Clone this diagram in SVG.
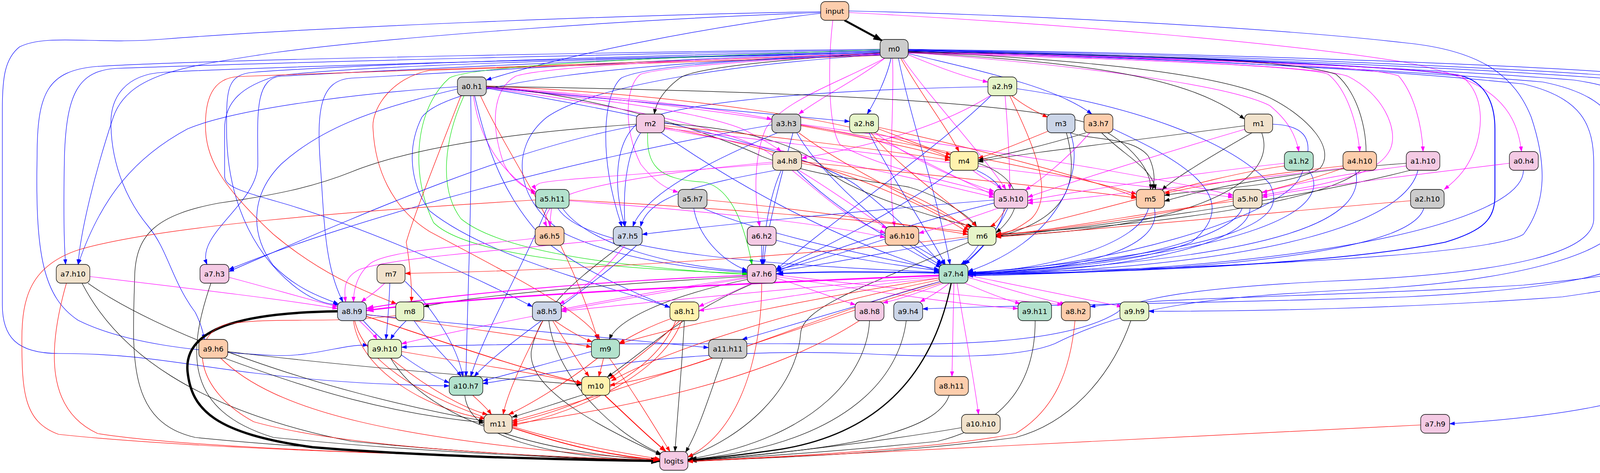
<svg xmlns="http://www.w3.org/2000/svg" width="4387" height="1211" viewBox="0 0 4387 1211">
<style>
.e{fill:none;stroke-width:1.2}
.b{stroke:#0000ff;marker-end:url(#ab)}
.r{stroke:#ff0000;marker-end:url(#ar)}
.m{stroke:#ff00ff;marker-end:url(#am)}
.g{stroke:#00e000;marker-end:url(#ag)}
.k{stroke:#000000;marker-end:url(#ak)}
.n rect{stroke:#000;stroke-width:1.3}
.n text{font-family:"DejaVu Sans","Liberation Sans",sans-serif;font-size:18.5px;text-anchor:middle;fill:#000}
.c1{fill:#b3e2cd}.c2{fill:#fdcdac}.c3{fill:#cbd5e8}.c4{fill:#f4cae4}.c5{fill:#e6f5c9}.c6{fill:#fff2ae}.c7{fill:#f1e2cc}.c8{fill:#cccccc}
</style>
<defs>
<marker id="ab" viewBox="0 0 14 10" refX="13" refY="5" markerWidth="14" markerHeight="10" markerUnits="userSpaceOnUse" orient="auto"><path d="M0,0 L14,5 L0,10 z" fill="#0000ff"/></marker>
<marker id="ar" viewBox="0 0 14 10" refX="13" refY="5" markerWidth="14" markerHeight="10" markerUnits="userSpaceOnUse" orient="auto"><path d="M0,0 L14,5 L0,10 z" fill="#ff0000"/></marker>
<marker id="am" viewBox="0 0 14 10" refX="13" refY="5" markerWidth="14" markerHeight="10" markerUnits="userSpaceOnUse" orient="auto"><path d="M0,0 L14,5 L0,10 z" fill="#ff00ff"/></marker>
<marker id="ag" viewBox="0 0 14 10" refX="13" refY="5" markerWidth="14" markerHeight="10" markerUnits="userSpaceOnUse" orient="auto"><path d="M0,0 L14,5 L0,10 z" fill="#00e000"/></marker>
<marker id="ak" viewBox="0 0 14 10" refX="13" refY="5" markerWidth="14" markerHeight="10" markerUnits="userSpaceOnUse" orient="auto"><path d="M0,0 L14,5 L0,10 z" fill="#000000"/></marker>
<marker id="akB" viewBox="0 0 14 10" refX="13" refY="5" markerWidth="24" markerHeight="17" markerUnits="userSpaceOnUse" orient="auto"><path d="M0,0 L14,5 L0,10 z" fill="#000000"/></marker>
<marker id="abB" viewBox="0 0 14 10" refX="13" refY="5" markerWidth="20" markerHeight="14" markerUnits="userSpaceOnUse" orient="auto"><path d="M0,0 L14,5 L0,10 z" fill="#0000ff"/></marker>
<marker id="amB" viewBox="0 0 14 10" refX="13" refY="5" markerWidth="20" markerHeight="14" markerUnits="userSpaceOnUse" orient="auto"><path d="M0,0 L14,5 L0,10 z" fill="#ff00ff"/></marker>
<marker id="arB" viewBox="0 0 14 10" refX="13" refY="5" markerWidth="18" markerHeight="13" markerUnits="userSpaceOnUse" orient="auto"><path d="M0,0 L14,5 L0,10 z" fill="#ff0000"/></marker>
</defs>
<rect width="4387" height="1211" fill="#ffffff"/>
<g id="edges">
<!-- input -->
<path class="e k" style="stroke-width:5;marker-end:url(#akB)" d="M2162,52 L2258,104"/>
<path class="e b" d="M2101,34 C1800,70 1450,140 1245,205"/>
<path class="e b" d="M2101,30 C1600,38 800,70 420,100 C250,115 120,85 50,120 C12,150 6,200 6,280 L6,780 C6,860 40,905 150,905 C350,905 450,930 650,955 C850,980 1000,985 1150,988"/>
<path class="e b" d="M2101,32 C1600,50 1000,95 700,135 C480,170 330,185 290,300 C240,450 205,600 200,677"/>
<path class="e b" d="M2173,28 C2700,40 3300,75 3600,110 C3800,130 3880,200 3920,300 C3960,420 3960,520 3900,600 C3800,660 3000,690 2478,698"/>
<path class="e m" d="M2173,32 C2700,60 3300,110 3600,160 C3800,200 3880,260 3895,388"/>
<path class="e m" d="M2132,52 C2120,150 2118,320 2150,370 C2250,430 2450,470 2545,495"/>
<!-- m0 left bundle -->
<path class="e b" d="M2253,128 C1700,135 700,160 300,175 C200,180 170,240 165,400 C162,550 165,640 168,677"/>
<path class="e b" d="M2253,126 C1700,132 600,150 250,170 C120,180 95,240 95,400 C90,650 110,760 200,820 C320,880 500,900 700,910 C800,915 880,880 942,884"/>
<path class="e b" d="M2253,130 C1700,140 900,165 650,185 C580,190 580,230 580,330 C580,500 640,640 750,730 C800,770 840,780 866,780"/>
<path class="e b" d="M2253,131 C1700,145 1000,180 720,195 C650,200 660,300 660,420 C660,520 500,600 530,677"/>
<path class="e b" d="M2253,133 C1700,150 1100,190 900,200 C820,205 810,280 820,420 C830,560 830,680 878,773"/>
<path class="e b" d="M2253,134 C1500,150 700,170 420,185 C320,190 282,250 284,320 C286,430 330,520 380,580 C430,640 440,720 500,800 C515,830 520,850 523,869"/>
<path class="e b" d="M2253,136 C1500,150 900,170 710,194 C620,220 575,260 575,330 L575,450 C575,480 620,490 740,525 C950,590 1200,700 1363,785"/>
<path class="e b" d="M2253,138 C1600,160 1150,210 1080,300 C1040,380 1050,470 1100,540 C1250,660 1550,730 1715,787"/>
<path class="e b" d="M2253,140 C1800,170 1500,230 1400,300 C1300,380 1320,520 1450,600 C1600,670 1800,690 1913,698"/>
<path class="e r" d="M2253,137 C1500,160 900,185 610,196 C540,200 526,260 526,320 C526,400 560,470 700,600 C820,700 920,740 1015,778"/>
<path class="e r" d="M2253,142 C1700,160 1200,175 1100,180 C1000,200 950,280 955,330 C960,430 1000,530 1100,593 C1300,700 1500,800 1535,869"/>
<path class="e g" d="M2253,127 C1600,150 1200,170 1150,200 C1060,280 1050,450 1110,570 C1200,660 1600,690 1913,700"/>
<!-- m0 right -->
<path class="e b" style="stroke-width:2.2;marker-end:url(#abB)" d="M2325,128 C2900,140 3500,165 3720,190 C3800,200 3827,260 3827,330 L3827,500 C3827,560 3800,590 3700,620 C3400,680 2800,700 2480,701"/>
<path class="e b" d="M2325,126 C3000,135 3800,160 4200,190 C4330,210 4381,250 4381,320 L4381,850 C4381,1000 4100,1060 3711,1085"/>
<path class="e b" d="M2325,127 C3000,138 3700,165 4150,195 C4300,215 4332,260 4332,330 L4332,640 C4332,700 4280,720 4000,760 C3600,790 3200,797 2941,797"/>
<path class="e b" d="M2325,129 C3000,142 3700,170 4100,200 C4250,220 4280,270 4280,330 L4280,640 C4280,680 4200,700 3900,730 C3400,760 3000,760 2791,785"/>
<path class="e b" d="M2325,130 C3000,145 3650,175 4030,205 C4200,230 4227,280 4227,350 L4227,600 C4227,700 4000,740 3600,760 C3000,780 2600,780 2362,791"/>
<path class="e b" d="M2325,132 C3000,150 3600,180 3950,210 C4100,240 4150,300 4150,400 L4150,560 C4150,640 3900,720 3500,740 C3100,760 2900,780 2700,880 C2600,920 2400,915 2200,905 C1800,890 1500,940 1236,982"/>
<path class="e b" d="M2325,131 C3000,148 3550,178 3900,215 C4050,250 4080,320 4080,420 L4080,560 C4080,640 3900,700 3400,720 C3100,735 2900,760 2860,800 C2700,900 2300,880 2000,880 C1600,880 1200,880 1028,889"/>
<path class="e m" d="M2325,134 C2800,170 3150,220 3250,270 C3300,310 3318,350 3325,388"/>
<path class="e m" d="M2325,136 C2900,150 3350,170 3400,190 C3450,230 3475,320 3481,388"/>
<path class="e m" d="M2325,134 C2900,145 3500,165 3580,194 C3620,240 3640,320 3643,388"/>
<path class="e m" d="M2325,133 C2900,145 3650,170 3740,194 C3790,230 3800,300 3780,370 C3760,430 3730,460 3697,485"/>
<path class="e m" d="M2325,135 C2900,150 3380,170 3450,195 C3540,240 3580,330 3560,380 C3530,450 3400,470 3231,500"/>
<path class="e k" d="M2325,131 C2700,150 3100,180 3250,250 C3350,300 3420,380 3380,430 C3300,480 3100,480 2981,500"/>
<path class="e k" d="M2325,133 C2900,140 3300,150 3420,190 C3480,240 3505,350 3495,420 C3470,480 3200,560 2550,600"/>
<path class="e k" d="M2325,134 C2800,160 3050,200 3186,305"/>
<!-- m0 down -->
<path class="e b" d="M2281,149 C2270,200 2240,260 2220,292"/>
<path class="e r" d="M2306,149 C2350,230 2420,320 2455,388"/>
<path class="e m" d="M2310,149 C2380,250 2520,400 2575,485"/>
<path class="e m" d="M2325,140 C2420,180 2480,200 2529,210"/>
<path class="e b" d="M2325,137 C2500,180 2700,220 2795,292"/>
<path class="e k" d="M2253,135 C2050,150 1780,170 1740,200 C1700,230 1680,260 1675,292"/>
<path class="e m" d="M2265,149 C2200,200 2100,250 2045,292"/>
<path class="e m" d="M2253,137 C1800,150 1400,170 1320,195 C1260,230 1255,320 1290,420 C1310,460 1340,480 1372,492"/>
<path class="e m" d="M2253,139 C2000,150 1700,170 1640,190 C1600,220 1595,330 1640,420 C1680,470 1710,485 1736,492"/>
<path class="e m" d="M2265,149 C2150,210 2000,260 1960,330 C1930,400 1930,500 1945,580"/>
<path class="e b" d="M2253,141 C1900,150 1650,170 1590,200 C1545,240 1530,400 1592,580"/>
<path class="e b" d="M2300,149 C2330,300 2400,500 2432,677"/>
<path class="e m" d="M2285,149 C2290,300 2270,450 2290,580"/>
<!-- a2.h9 -->
<path class="e r" d="M2590,245 C2620,270 2660,290 2682,300"/>
<path class="e m" d="M2535,245 C2400,330 2200,380 2052,405"/>
<path class="e m" d="M2573,245 C2580,330 2585,420 2585,485"/>
<path class="e r" d="M2585,245 C2650,380 2700,500 2640,560 C2600,590 2570,600 2550,600"/>
<path class="e b" d="M2603,227 C2900,270 3150,360 3250,470 C3300,560 3200,640 2478,699"/>
<path class="e b" d="M2537,245 C2400,380 2150,550 1987,690"/>
<path class="e b" d="M2529,222 C2100,230 1750,260 1640,310 C1570,360 1570,480 1600,580"/>
<!-- a0.h1 -->
<path class="e m" d="M1245,222 C1500,240 1800,270 1976,305"/>
<path class="e m" d="M1245,223 C1600,260 1800,290 1900,330 C1960,360 1990,380 2000,388"/>
<path class="e b" d="M1245,224 C1600,260 1950,290 2175,311"/>
<path class="e r" d="M1245,220 C1700,240 2200,300 2432,404"/>
<path class="e k" d="M1245,221 C1800,230 2600,250 2800,320 C2900,370 2950,440 2945,485"/>
<path class="e k" d="M1245,222 C1500,240 1800,330 1950,400 C2100,460 2300,470 2330,480 C2400,500 2480,550 2500,580"/>
<path class="e m" d="M1245,225 C1600,270 1850,330 1950,380 C2050,440 2150,560 2266,596"/>
<path class="e m" d="M1245,223 C1700,260 2200,330 2300,380 C2400,430 2500,480 2545,500"/>
<path class="e r" d="M1180,245 C1120,400 1060,550 1040,620 C1050,680 1055,740 1053,773"/>
<path class="e g" d="M1188,245 C1140,350 1120,480 1180,560 C1300,660 1700,690 1913,703"/>
<path class="e m" d="M1212,245 C1230,380 1300,450 1372,498"/>
<path class="e b" d="M1205,245 C1210,500 1195,800 1193,964"/>
<path class="e b" d="M1215,245 C1250,400 1300,520 1400,620 C1500,700 1650,760 1715,787"/>
<path class="e r" d="M1230,245 C1300,400 1450,600 1530,869"/>
<path class="e b" d="M1245,226 C1700,300 2100,400 2200,480 C2300,560 2380,640 2410,677"/>
<path class="e b" d="M1171,222 C900,240 600,280 480,330 C350,400 260,500 200,677"/>
<path class="e b" d="M1171,228 C950,280 820,330 720,420 C640,500 640,600 700,680 C760,740 820,760 866,778"/>
<!-- m2 -->
<path class="e k" d="M1629,318 C1300,340 1050,380 900,440 C800,480 700,500 560,520 C400,550 350,600 345,700 C340,900 320,1080 500,1120 C900,1160 1400,1175 1689,1181"/>
<path class="e k" d="M1701,316 C1950,330 2080,390 2120,440 C2200,500 2400,560 2490,580"/>
<path class="e g" d="M1658,340 C1655,420 1680,460 1800,466 C1880,480 1910,600 1925,677"/>
<path class="e b" d="M1629,322 C1300,380 900,560 586,695"/>
<path class="e b" d="M1693,340 C1850,450 2100,600 2404,695"/>
<path class="e b" d="M1640,340 C1600,400 1595,500 1600,580"/>
<path class="e r" d="M1701,322 C2000,350 2300,390 2432,410"/>
<path class="e r" d="M1701,326 C2000,380 2300,480 2478,595"/>
<path class="e m" d="M1701,330 C2100,400 2400,470 2545,505"/>
<path class="e m" d="M1701,328 C2300,400 2900,470 3157,505"/>
<!-- a3.h3 -->
<path class="e r" d="M2050,322 C2200,350 2350,380 2432,405"/>
<path class="e r" d="M2050,320 C2400,380 2800,460 2909,497"/>
<path class="e m" d="M2050,318 C2500,380 2900,440 3157,500"/>
<path class="e b" d="M1990,340 C1800,420 1650,500 1620,580"/>
<path class="e b" d="M1976,320 C1500,400 900,560 586,690"/>
<path class="e b" d="M2030,340 C2000,450 1960,600 1955,677"/>
<path class="e r" d="M2045,340 C2150,420 2350,520 2485,582"/>
<path class="e b" d="M2040,340 C2100,450 2300,620 2410,680"/>
<!-- a2.h8 -->
<path class="e r" d="M2249,330 C2330,360 2400,390 2435,395"/>
<path class="e r" d="M2249,326 C2500,380 2800,460 2909,505"/>
<path class="e m" d="M2240,340 C2350,420 2480,470 2545,490"/>
<path class="e b" d="M2225,340 C2280,450 2380,600 2420,677"/>
<path class="e r" d="M2230,340 C2300,430 2450,530 2500,580"/>
<!-- m3 a3.h7 m1 -->
<path class="e r" d="M2685,335 C2600,370 2540,395 2504,405"/>
<path class="e k" d="M2740,340 C2800,360 2900,350 2940,400 C2960,440 2955,470 2950,485"/>
<path class="e k" d="M2730,340 C2760,450 2750,560 2550,606"/>
<path class="e b" d="M2740,340 C2780,450 2700,620 2478,695"/>
<path class="e k" d="M2780,340 C2650,380 2550,400 2504,410"/>
<path class="e k" d="M2820,340 C2880,400 2950,430 2958,485"/>
<path class="e m" d="M2790,340 C2720,420 2650,470 2625,487"/>
<path class="e b" d="M2849,330 C3000,400 3200,500 3050,620 C2900,680 2600,695 2478,700"/>
<path class="e k" d="M3186,322 C2900,360 2600,395 2504,414"/>
<path class="e k" d="M3205,340 C3100,400 3000,460 2975,487"/>
<path class="e m" d="M3190,330 C2950,400 2700,480 2631,505"/>
<path class="e k" d="M3230,340 C3280,480 3000,590 2550,604"/>
<path class="e b" d="M3258,318 C3320,320 3380,340 3330,450 C3280,560 2800,690 2478,697"/>
<!-- a4.h8 -->
<path class="e m" d="M1978,415 C1700,440 1450,480 1420,520 C1390,550 1395,570 1400,580"/>
<path class="e m" d="M1980,419 C1600,450 1400,460 1380,470 C1370,475 1368,480 1372,486"/>
<path class="e b" d="M1985,436 C1800,470 1660,500 1640,580"/>
<path class="e r" d="M2052,418 C2250,450 2400,520 2480,590"/>
<path class="e m" d="M2045,436 C2150,500 2230,560 2270,585"/>
<path class="e b" d="M2040,436 C2150,550 2330,640 2408,685"/>
<path class="e b" d="M2000,436 C1970,500 1955,600 1952,677"/>
<path class="e r" d="M2052,414 C2400,450 2800,490 2909,507"/>
<!-- m4 -->
<path class="e m" d="M2490,436 C2520,460 2550,470 2565,485"/>
<path class="e k" d="M2504,418 C2600,450 2640,520 2550,596"/>
<path class="e b" d="M2500,436 C2600,480 2600,560 2470,677"/>
<path class="e b" d="M2440,436 C2300,540 2100,640 1987,690"/>
<!-- right nodes -->
<path class="e m" d="M3288,418 C3000,450 2700,500 2631,514"/>
<path class="e r" d="M3288,425 C3100,450 2900,520 2550,600"/>
<path class="e b" d="M3350,436 C3400,500 3350,640 2478,702"/>
<path class="e r" d="M3438,425 C3200,450 3050,480 2981,495"/>
<path class="e m" d="M3438,430 C3100,470 2750,510 2631,520"/>
<path class="e r" d="M3440,430 C3300,480 3000,560 2550,603"/>
<path class="e b" d="M3470,436 C3500,560 3300,660 2478,703"/>
<path class="e k" d="M3600,418 C3300,440 3100,480 2981,515"/>
<path class="e m" d="M3600,425 C3400,450 3280,480 3231,493"/>
<path class="e k" d="M3610,436 C3400,490 3000,560 2550,606"/>
<path class="e b" d="M3630,436 C3600,560 3300,680 2478,704"/>
<path class="e m" d="M3864,418 C3600,450 3350,480 3231,505"/>
<path class="e b" d="M3900,436 C3900,560 3400,690 2478,705"/>
<path class="e r" d="M3611,514 C3300,540 2900,580 2550,607"/>
<path class="e b" d="M3645,533 C3620,620 3300,690 2478,706"/>
<!-- row 5 -->
<path class="e r" d="M1371,512 C900,540 400,580 200,640 C80,680 56,760 56,868 C56,1000 60,1080 150,1112 C500,1150 1200,1170 1689,1178"/>
<path class="e m" d="M1412,533 C1410,550 1408,565 1407,580"/>
<path class="e m" d="M1457,514 C1800,540 2100,570 2266,608"/>
<path class="e r" d="M1457,512 C1800,530 2200,560 2478,594"/>
<path class="e b" d="M1440,533 C1500,620 1700,680 1913,695"/>
<path class="e b" d="M1428,533 C1500,650 2000,680 2404,697"/>
<path class="e b" d="M1400,533 C1330,700 1240,850 1205,964"/>
<path class="e b" d="M1776,533 C1790,620 1870,680 1913,692"/>
<path class="e r" d="M1810,512 C2100,540 2350,580 2478,600"/>
<path class="e b" d="M1800,533 C1950,600 2250,660 2404,690"/>
<path class="e r" d="M2575,533 C2560,560 2545,575 2535,580"/>
<path class="e b" d="M2545,512 C2200,540 1800,580 1644,600"/>
<path class="e m" d="M2555,533 C2450,570 2380,590 2352,597"/>
<path class="e b" d="M2580,533 C2550,600 2500,650 2465,677"/>
<path class="e b" d="M2545,520 C2300,580 2100,650 1987,695"/>
<path class="e b" d="M2940,533 C2920,620 2700,690 2478,699"/>
<path class="e b" d="M2955,533 C2980,640 2750,695 2478,700"/>
<path class="e r" d="M3157,515 C2900,550 2700,590 2550,602"/>
<path class="e b" d="M3180,533 C3150,620 2800,690 2478,700"/>
<path class="e b" d="M3200,533 C3200,640 2800,698 2478,702"/>
<!-- row 6 -->
<path class="e m" d="M1370,610 C1200,630 1000,640 950,673 C915,700 905,740 905,773"/>
<path class="e m" d="M1570,612 C1300,640 1000,660 920,690 C880,710 880,740 885,773"/>
<path class="e m" d="M1600,628 C1540,700 1470,760 1432,778"/>
<path class="e k" d="M1590,628 C1500,700 1380,780 1360,900 C1350,1000 1550,1100 1692,1165"/>
<path class="e b" d="M1630,628 C1500,750 1300,870 1214,964"/>
<path class="e b" d="M1950,628 L1950,677"/>
<path class="e b" d="M1987,615 C2150,660 2300,680 2404,693"/>
<path class="e b" d="M2340,628 C2380,650 2410,670 2420,677"/>
<path class="e b" d="M2266,612 C2150,650 2050,680 1987,690"/>
<path class="e b" d="M2505,628 C2490,650 2470,670 2460,677"/>
<path class="e r" d="M2478,606 C2200,640 1600,690 1037,700"/>
<path class="e b" d="M2478,610 C2300,640 2100,680 1987,694"/>
<path class="e k" d="M2480,620 C2250,720 2060,780 2050,850 C2040,1000 1900,1120 1761,1170"/>
<path class="e b" style="stroke-width:2.5;marker-end:url(#abB)" d="M2404,699 C2200,695 2100,695 1987,701"/>
<!-- row 7 -->
<path class="e m" d="M230,708 C500,740 750,770 864,790"/>
<path class="e r" d="M170,725 C120,900 120,1050 250,1110 C500,1150 1200,1170 1689,1178"/>
<path class="e k" d="M210,725 C300,900 500,1050 900,1130 C1200,1160 1500,1175 1689,1180"/>
<path class="e k" d="M225,725 C400,850 800,1000 1239,1078"/>
<path class="e m" d="M586,710 C700,740 800,770 864,785"/>
<path class="e k" d="M540,725 C480,900 470,1050 700,1120 C1100,1160 1500,1175 1689,1179"/>
<path class="e m" d="M985,725 C960,750 935,765 925,773"/>
<path class="e b" d="M998,725 C995,800 990,850 988,869"/>
<path class="e b" d="M1037,720 C1100,780 1170,880 1185,964"/>
<path class="e m" style="stroke-width:2.2;marker-end:url(#amB)" d="M1913,705 C1500,720 1100,760 938,790"/>
<path class="e m" d="M1913,710 C1700,740 1500,780 1437,792"/>
<path class="e m" d="M1925,725 C1850,760 1800,780 1789,785"/>
<path class="e m" d="M1987,712 C2080,740 2150,770 2190,780"/>
<path class="e m" d="M1987,708 C2200,740 2450,780 2606,790"/>
<path class="e m" d="M1987,704 C2300,740 2600,770 2720,780"/>
<path class="e k" d="M1913,708 C1500,730 1200,760 1085,785"/>
<path class="e k" d="M1915,715 C1700,760 1580,820 1560,869"/>
<path class="e k" d="M1930,725 C1750,800 1650,900 1555,965"/>
<path class="e r" d="M1950,725 C1950,900 1900,1100 1761,1170"/>
<path class="e m" d="M1913,712 C1500,780 1200,840 1028,880"/>
<path class="e m" style="stroke-width:3.5;marker-end:url(#amB)" d="M2404,705 C1800,730 1200,760 938,795"/>
<path class="e m" d="M2404,708 C2000,740 1600,780 1437,797"/>
<path class="e m" d="M2404,712 C2100,740 1900,780 1789,795"/>
<path class="e m" d="M2415,725 C2350,750 2290,770 2260,775"/>
<path class="e m" d="M2430,725 C2400,750 2370,765 2355,773"/>
<path class="e m" d="M2470,725 C2530,750 2580,770 2612,777"/>
<path class="e m" d="M2478,710 C2580,740 2680,770 2727,778"/>
<path class="e m" d="M2478,705 C2650,740 2800,770 2872,785"/>
<path class="e m" d="M2442,725 C2440,850 2438,920 2437,964"/>
<path class="e m" d="M2450,725 C2470,850 2495,980 2505,1061"/>
<path class="e r" d="M2404,712 C2100,760 1750,830 1586,880"/>
<path class="e r" d="M2410,720 C2100,800 1800,950 1561,986"/>
<path class="e r" d="M2415,722 C2000,850 1600,1000 1311,1078"/>
<path class="e r" d="M2406,716 C2000,800 1700,900 1565,975"/>
<path class="e b" d="M2410,720 C2200,780 2000,840 1900,869"/>
<path class="e k" style="stroke-width:3;marker-end:url(#akB)" d="M2435,725 C2400,900 2300,1100 2000,1150 C1900,1165 1800,1175 1761,1178"/>
<!-- row 8 -->
<path class="e k" style="stroke-width:6;marker-end:url(#akB)" d="M864,797 C650,800 470,830 480,950 C490,1050 550,1110 800,1145 C1100,1170 1500,1178 1689,1180"/>
<path class="e m" d="M920,821 C945,845 960,860 965,869"/>
<path class="e r" d="M938,805 C1200,840 1400,870 1514,888"/>
<path class="e r" style="stroke-width:1.8" d="M938,810 C1150,880 1350,950 1489,980"/>
<path class="e r" d="M905,821 C920,950 1100,1050 1242,1072"/>
<path class="e b" d="M938,806 C1300,840 1600,870 1814,890"/>
<path class="e b" d="M930,821 C1000,900 1100,960 1150,980"/>
<path class="e r" d="M908,821 C940,960 1200,1100 1689,1175"/>
<path class="e b" d="M1040,821 C1020,840 1005,860 1000,869"/>
<path class="e b" d="M1060,821 C1100,880 1160,930 1180,964"/>
<path class="e r" d="M1013,808 C850,830 700,810 580,830 C480,860 500,1000 650,1080 C900,1150 1400,1170 1689,1178"/>
<path class="e r" d="M1420,821 C1460,850 1500,870 1516,875"/>
<path class="e r" d="M1415,821 C1450,880 1490,940 1508,964"/>
<path class="e r" d="M1390,821 C1350,900 1300,1000 1288,1061"/>
<path class="e k" d="M1405,821 C1420,950 1550,1100 1692,1162"/>
<path class="e r" d="M1720,815 C1650,840 1610,865 1586,878"/>
<path class="e r" d="M1740,821 C1680,880 1600,940 1561,970"/>
<path class="e r" d="M1745,821 C1700,950 1500,1050 1311,1090"/>
<path class="e r" d="M1730,821 C1680,950 1500,1040 1311,1082"/>
<path class="e k" d="M1752,821 C1745,950 1735,1050 1728,1156"/>
<path class="e k" d="M2226,821 C2220,950 2100,1120 1761,1176"/>
<path class="e r" d="M2200,821 C2000,950 1700,1030 1311,1086"/>
<path class="e k" d="M2320,821 C2300,980 2150,1140 1761,1177"/>
<path class="e k" d="M2650,821 C2650,950 2600,1080 2400,1130 C2100,1160 1900,1172 1761,1179"/>
<path class="e r" d="M2752,821 C2740,950 2700,1050 2600,1110 C2400,1150 2000,1170 1761,1180"/>
<path class="e k" d="M2895,821 C2850,950 2750,1080 2600,1120 C2300,1160 2000,1172 1761,1181"/>
<!-- row 9+ -->
<path class="e k" d="M583,900 C900,940 1300,970 1489,985"/>
<path class="e k" d="M575,917 C800,1000 1000,1060 1239,1082"/>
<path class="e r" d="M565,917 C700,1050 1000,1130 1689,1177"/>
<path class="e r" d="M1028,900 C1200,930 1400,960 1489,982"/>
<path class="e r" d="M1000,917 C1100,1000 1200,1050 1248,1061"/>
<path class="e k" d="M1000,917 C1080,1050 1300,1150 1689,1180"/>
<path class="e k" d="M1850,917 C1820,1000 1790,1100 1755,1158"/>
<path class="e b" d="M1514,900 C1400,930 1300,960 1236,975"/>
<path class="e r" d="M1545,917 C1540,940 1535,955 1533,964"/>
<path class="e r" d="M1530,917 C1450,980 1350,1040 1302,1061"/>
<path class="e r" d="M1560,917 C1620,1000 1680,1100 1715,1156"/>
<path class="e r" d="M1210,1012 C1230,1030 1250,1050 1258,1061"/>
<path class="e k" d="M1190,1012 C1200,1120 1400,1170 1689,1180"/>
<path class="e k" d="M1495,1010 C1400,1040 1340,1060 1311,1068"/>
<path class="e r" style="stroke-width:2.2;marker-end:url(#arB)" d="M1548,1012 C1600,1060 1650,1110 1705,1156"/>
<path class="e k" d="M2430,1012 C2400,1100 2200,1150 1761,1179"/>
<path class="e r" style="stroke-width:2.2;marker-end:url(#arB)" d="M1311,1095 C1450,1140 1550,1165 1689,1178"/>
<path class="e k" d="M2461,1095 C2200,1140 1900,1170 1761,1180"/>
<path class="e r" d="M3637,1088 C3000,1120 2200,1160 1761,1182"/>
</g>
<g id="n-input" class="n"><rect class="c2" x="2101" y="4" width="72" height="48" rx="12"/><text x="2137" y="34.5">input</text></g>
<g id="n-m0" class="n"><rect class="c8" x="2253" y="101" width="72" height="48" rx="12"/><text x="2289" y="131.5">m0</text></g>
<g id="n-a0.h1" class="n"><rect class="c8" x="1171" y="197" width="74" height="48" rx="12"/><text x="1208" y="227.5">a0.h1</text></g>
<g id="n-a2.h9" class="n"><rect class="c5" x="2529" y="197" width="74" height="48" rx="12"/><text x="2566" y="227.5">a2.h9</text></g>
<g id="n-m2" class="n"><rect class="c4" x="1629" y="292" width="72" height="48" rx="12"/><text x="1665" y="322.5">m2</text></g>
<g id="n-a3.h3" class="n"><rect class="c8" x="1976" y="292" width="74" height="48" rx="12"/><text x="2013" y="322.5">a3.h3</text></g>
<g id="n-a2.h8" class="n"><rect class="c5" x="2175" y="292" width="74" height="48" rx="12"/><text x="2212" y="322.5">a2.h8</text></g>
<g id="n-m3" class="n"><rect class="c3" x="2680" y="292" width="72" height="48" rx="12"/><text x="2716" y="322.5">m3</text></g>
<g id="n-a3.h7" class="n"><rect class="c2" x="2775" y="292" width="74" height="48" rx="12"/><text x="2812" y="322.5">a3.h7</text></g>
<g id="n-m1" class="n"><rect class="c7" x="3186" y="292" width="72" height="48" rx="12"/><text x="3222" y="322.5">m1</text></g>
<g id="n-a4.h8" class="n"><rect class="c7" x="1978" y="388" width="74" height="48" rx="12"/><text x="2015" y="418.5">a4.h8</text></g>
<g id="n-m4" class="n"><rect class="c6" x="2432" y="388" width="72" height="48" rx="12"/><text x="2468" y="418.5">m4</text></g>
<g id="n-a1.h2" class="n"><rect class="c1" x="3288" y="388" width="74" height="48" rx="12"/><text x="3325" y="418.5">a1.h2</text></g>
<g id="n-a4.h10" class="n"><rect class="c2" x="3438" y="388" width="86" height="48" rx="12"/><text x="3481" y="418.5">a4.h10</text></g>
<g id="n-a1.h10" class="n"><rect class="c4" x="3600" y="388" width="86" height="48" rx="12"/><text x="3643" y="418.5">a1.h10</text></g>
<g id="n-a0.h4" class="n"><rect class="c4" x="3864" y="388" width="74" height="48" rx="12"/><text x="3901" y="418.5">a0.h4</text></g>
<g id="n-a5.h11" class="n"><rect class="c1" x="1371" y="485" width="86" height="48" rx="12"/><text x="1414" y="515.5">a5.h11</text></g>
<g id="n-a5.h7" class="n"><rect class="c8" x="1736" y="485" width="74" height="48" rx="12"/><text x="1773" y="515.5">a5.h7</text></g>
<g id="n-a5.h10" class="n"><rect class="c4" x="2545" y="485" width="86" height="48" rx="12"/><text x="2588" y="515.5">a5.h10</text></g>
<g id="n-m5" class="n"><rect class="c2" x="2909" y="485" width="72" height="48" rx="12"/><text x="2945" y="515.5">m5</text></g>
<g id="n-a5.h0" class="n"><rect class="c7" x="3157" y="485" width="74" height="48" rx="12"/><text x="3194" y="515.5">a5.h0</text></g>
<g id="n-a2.h10" class="n"><rect class="c8" x="3611" y="485" width="86" height="48" rx="12"/><text x="3654" y="515.5">a2.h10</text></g>
<g id="n-a6.h5" class="n"><rect class="c2" x="1370" y="580" width="74" height="48" rx="12"/><text x="1407" y="610.5">a6.h5</text></g>
<g id="n-a7.h5" class="n"><rect class="c3" x="1570" y="580" width="74" height="48" rx="12"/><text x="1607" y="610.5">a7.h5</text></g>
<g id="n-a6.h2" class="n"><rect class="c4" x="1913" y="580" width="74" height="48" rx="12"/><text x="1950" y="610.5">a6.h2</text></g>
<g id="n-a6.h10" class="n"><rect class="c2" x="2266" y="580" width="86" height="48" rx="12"/><text x="2309" y="610.5">a6.h10</text></g>
<g id="n-m6" class="n"><rect class="c5" x="2478" y="580" width="72" height="48" rx="12"/><text x="2514" y="610.5">m6</text></g>
<g id="n-a7.h10" class="n"><rect class="c7" x="144" y="677" width="86" height="48" rx="12"/><text x="187" y="707.5">a7.h10</text></g>
<g id="n-a7.h3" class="n"><rect class="c4" x="512" y="677" width="74" height="48" rx="12"/><text x="549" y="707.5">a7.h3</text></g>
<g id="n-m7" class="n"><rect class="c7" x="965" y="677" width="72" height="48" rx="12"/><text x="1001" y="707.5">m7</text></g>
<g id="n-a7.h6" class="n"><rect class="c4" x="1913" y="677" width="74" height="48" rx="12"/><text x="1950" y="707.5">a7.h6</text></g>
<g id="n-a7.h4" class="n"><rect class="c1" x="2404" y="677" width="74" height="48" rx="12"/><text x="2441" y="707.5">a7.h4</text></g>
<g id="n-a8.h9" class="n"><rect class="c3" x="864" y="773" width="74" height="48" rx="12"/><text x="901" y="803.5">a8.h9</text></g>
<g id="n-m8" class="n"><rect class="c5" x="1013" y="773" width="72" height="48" rx="12"/><text x="1049" y="803.5">m8</text></g>
<g id="n-a8.h5" class="n"><rect class="c3" x="1363" y="773" width="74" height="48" rx="12"/><text x="1400" y="803.5">a8.h5</text></g>
<g id="n-a8.h1" class="n"><rect class="c6" x="1715" y="773" width="74" height="48" rx="12"/><text x="1752" y="803.5">a8.h1</text></g>
<g id="n-a8.h8" class="n"><rect class="c4" x="2189" y="773" width="74" height="48" rx="12"/><text x="2226" y="803.5">a8.h8</text></g>
<g id="n-a9.h4" class="n"><rect class="c3" x="2288" y="773" width="74" height="48" rx="12"/><text x="2325" y="803.5">a9.h4</text></g>
<g id="n-a9.h11" class="n"><rect class="c1" x="2606" y="773" width="86" height="48" rx="12"/><text x="2649" y="803.5">a9.h11</text></g>
<g id="n-a8.h2" class="n"><rect class="c2" x="2717" y="773" width="74" height="48" rx="12"/><text x="2754" y="803.5">a8.h2</text></g>
<g id="n-a9.h9" class="n"><rect class="c5" x="2867" y="773" width="74" height="48" rx="12"/><text x="2904" y="803.5">a9.h9</text></g>
<g id="n-a9.h6" class="n"><rect class="c2" x="509" y="869" width="74" height="48" rx="12"/><text x="546" y="899.5">a9.h6</text></g>
<g id="n-a9.h10" class="n"><rect class="c5" x="942" y="869" width="86" height="48" rx="12"/><text x="985" y="899.5">a9.h10</text></g>
<g id="n-m9" class="n"><rect class="c1" x="1514" y="869" width="72" height="48" rx="12"/><text x="1550" y="899.5">m9</text></g>
<g id="n-a11.h11" class="n"><rect class="c8" x="1814" y="869" width="98" height="48" rx="12"/><text x="1863" y="899.5">a11.h11</text></g>
<g id="n-a10.h7" class="n"><rect class="c1" x="1150" y="964" width="86" height="48" rx="12"/><text x="1193" y="994.5">a10.h7</text></g>
<g id="n-m10" class="n"><rect class="c6" x="1489" y="964" width="72" height="48" rx="12"/><text x="1525" y="994.5">m10</text></g>
<g id="n-a8.h11" class="n"><rect class="c2" x="2393" y="964" width="86" height="48" rx="12"/><text x="2436" y="994.5">a8.h11</text></g>
<g id="n-m11" class="n"><rect class="c7" x="1239" y="1061" width="72" height="48" rx="12"/><text x="1275" y="1091.5">m11</text></g>
<g id="n-a10.h10" class="n"><rect class="c7" x="2461.5" y="1061" width="99" height="48" rx="12"/><text x="2511" y="1091.5">a10.h10</text></g>
<g id="n-a7.h9" class="n"><rect class="c4" x="3637" y="1061" width="74" height="48" rx="12"/><text x="3674" y="1091.5">a7.h9</text></g>
<g id="n-logits" class="n"><rect class="c4" x="1689" y="1156" width="72" height="48" rx="12"/><text x="1725" y="1186.5">logits</text></g>
</svg>
